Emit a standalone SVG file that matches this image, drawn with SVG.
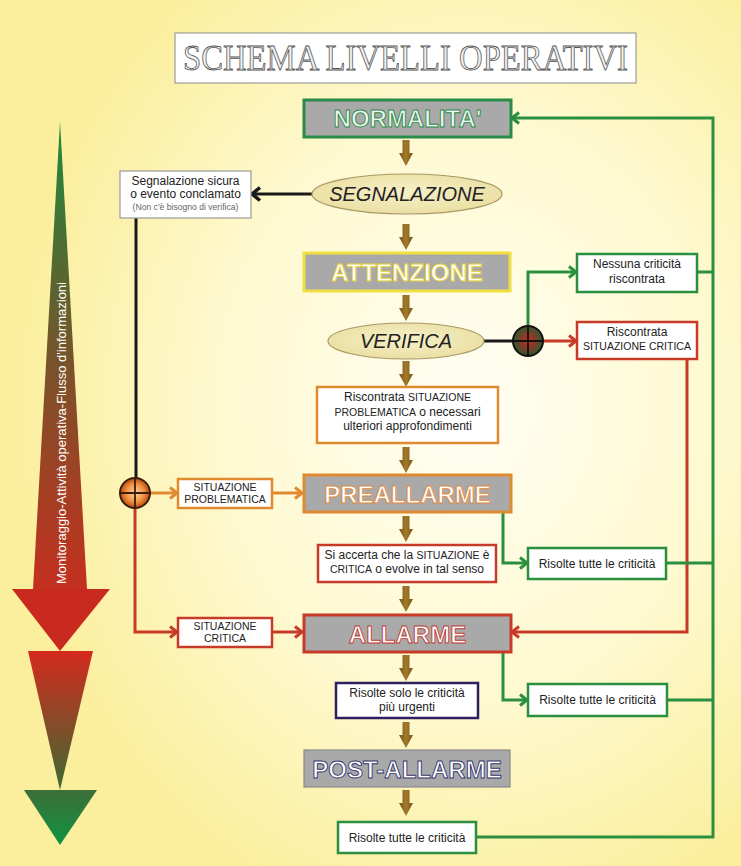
<svg xmlns="http://www.w3.org/2000/svg" xmlns:xlink="http://www.w3.org/1999/xlink" width="741" height="866" viewBox="0 0 741 866">
<defs>
<radialGradient id="bg" cx="0.63" cy="0.47" r="0.62">
<stop offset="0" stop-color="#fffef4"/>
<stop offset="0.55" stop-color="#fef9cf"/>
<stop offset="1" stop-color="#fbee9c"/>
</radialGradient>
<linearGradient id="shaft" x1="0" y1="122" x2="0" y2="589" gradientUnits="userSpaceOnUse">
<stop offset="0" stop-color="#1e8a3e"/>
<stop offset="0.5" stop-color="#76542a"/>
<stop offset="1" stop-color="#c4301f"/>
</linearGradient>
<linearGradient id="tri2" x1="0" y1="651" x2="0" y2="790" gradientUnits="userSpaceOnUse">
<stop offset="0" stop-color="#d42a1e"/>
<stop offset="1" stop-color="#3e6a32"/>
</linearGradient>
<linearGradient id="tri3" x1="0" y1="790" x2="0" y2="845" gradientUnits="userSpaceOnUse">
<stop offset="0" stop-color="#3d6e38"/>
<stop offset="1" stop-color="#0f9444"/>
</linearGradient>
<linearGradient id="brown" x1="0" y1="0" x2="1" y2="0">
<stop offset="0" stop-color="#76561a"/>
<stop offset="0.5" stop-color="#a37a2a"/>
<stop offset="1" stop-color="#76561a"/>
</linearGradient>
<radialGradient id="ellg" cx="0.5" cy="0.45" r="0.6">
<stop offset="0" stop-color="#f6f0c8"/>
<stop offset="1" stop-color="#e9dea0"/>
</radialGradient>
<radialGradient id="jgreen" cx="0.5" cy="0.5" r="0.5">
<stop offset="0" stop-color="#b83222"/>
<stop offset="0.45" stop-color="#8a3a26"/>
<stop offset="1" stop-color="#2e5a30"/>
</radialGradient>
<radialGradient id="jorange" cx="0.5" cy="0.5" r="0.5">
<stop offset="0" stop-color="#fcd8a0"/>
<stop offset="0.6" stop-color="#f09040"/>
<stop offset="1" stop-color="#b84a10"/>
</radialGradient>
<path id="ba" d="M-3.5,0 H3.5 V13 H7 L0,26 L-7,13 H-3.5 Z" fill="url(#brown)"/>
<marker id="mg" markerUnits="userSpaceOnUse" markerWidth="12" markerHeight="14" refX="9" refY="7" orient="auto"><path d="M2,1.5 L9,7 L2,12.5" fill="none" stroke="#2a9040" stroke-width="3"/></marker>
<marker id="mr" markerUnits="userSpaceOnUse" markerWidth="12" markerHeight="14" refX="9" refY="7" orient="auto"><path d="M2,1.5 L9,7 L2,12.5" fill="none" stroke="#c83a28" stroke-width="3"/></marker>
<marker id="mo" markerUnits="userSpaceOnUse" markerWidth="12" markerHeight="14" refX="9" refY="7" orient="auto"><path d="M2,1.5 L9,7 L2,12.5" fill="none" stroke="#e08a30" stroke-width="3"/></marker>
<marker id="mk" markerUnits="userSpaceOnUse" markerWidth="14" markerHeight="16" refX="10" refY="8" orient="auto"><path d="M2,1.5 L10,8 L2,14.5" fill="none" stroke="#1a1a1a" stroke-width="3.5"/></marker>
</defs>
<style>
.sans{font-family:"Liberation Sans",Arial,sans-serif;}
.box{fill:#ffffff;stroke-width:2.5;}
.lvl{fill:#a9a9a9;stroke-width:3;}
.lt{font-family:"Liberation Sans",Arial,sans-serif;font-size:24px;font-weight:bold;text-anchor:middle;stroke-width:0.9;}
.t12{font-family:"Liberation Sans",Arial,sans-serif;font-size:12px;fill:#222;text-anchor:middle;}
.sm{font-size:10.5px;}
.g{stroke:#2a9040;}
.r{stroke:#c83a28;}
.o{stroke:#e08a30;}
.c{fill:none;stroke-width:3;stroke-linejoin:miter;}
.ell{fill:url(#ellg);stroke:#a89868;stroke-width:1.2;}
.et{font-family:"Liberation Sans",Arial,sans-serif;font-size:20px;font-style:italic;fill:#222;text-anchor:middle;}
</style>
<rect x="0" y="0" width="741" height="866" fill="url(#bg)"/>

<g id="side-arrow">
<polygon points="60,122 87,589 33,589" fill="url(#shaft)"/>
<polygon points="12,589 110,589 60,651" fill="#c92a1f"/>
<polygon points="28,651 93,651 60,790" fill="url(#tri2)"/>
<polygon points="24,790 97,790 60,845" fill="url(#tri3)"/>
<text class="sans" x="0" y="0" transform="translate(66,433) rotate(-90)" font-size="12.5" fill="#ffffff" text-anchor="middle" textLength="302" lengthAdjust="spacingAndGlyphs">Monitoraggio-Attività operativa-Flusso d'informazioni</text>
</g>

<g id="title">
<rect x="175" y="33" width="461" height="50" fill="#ffffff" stroke="#8a8a8a" stroke-width="1"/>
<text x="405.5" y="70" font-family="'Liberation Serif','Times New Roman',serif" font-size="35" fill="#f0f0f0" stroke="#555555" stroke-width="0.8" text-anchor="middle" textLength="445" lengthAdjust="spacingAndGlyphs">SCHEMA LIVELLI OPERATIVI</text>
</g>

<g id="connectors">
<use xlink:href="#ba" x="406" y="140"/>
<use xlink:href="#ba" x="406" y="224"/>
<use xlink:href="#ba" x="406" y="295"/>
<use xlink:href="#ba" x="406" y="361"/>
<use xlink:href="#ba" x="406" y="447"/>
<use xlink:href="#ba" x="406" y="516"/>
<use xlink:href="#ba" x="406" y="586"/>
<use xlink:href="#ba" x="406" y="655"/>
<use xlink:href="#ba" x="406" y="722"/>
<use xlink:href="#ba" x="406" y="790"/>
<path class="c" d="M312,194 H252" stroke="#1a1a1a" stroke-width="3.5" marker-end="url(#mk)"/>
<path class="c" d="M136,218 V478" stroke="#1a1a1a"/>
<path class="c" d="M484,341 H513" stroke="#1a1a1a"/>
<path class="c g" d="M528,326 V272 H576" marker-end="url(#mg)"/>
<path class="c r" d="M543,341 H576" marker-end="url(#mr)"/>
<path class="c g" d="M697,272 H713"/>
<path class="c r" d="M687,359 V632 H512" marker-end="url(#mr)"/>
<path class="c g" d="M503,512 V563 H527" marker-end="url(#mg)"/>
<path class="c g" d="M666,563 H713"/>
<path class="c g" d="M503,652 V700 H527" marker-end="url(#mg)"/>
<path class="c g" d="M667,700 H713"/>
<path class="c g" d="M476,837 H713 V118 H512" marker-end="url(#mg)"/>
<path class="c o" d="M150,493 H177" marker-end="url(#mo)"/>
<path class="c o" d="M272,493 H302" marker-end="url(#mo)"/>
<path class="c r" d="M135,508 V632 H177" marker-end="url(#mr)"/>
<path class="c r" d="M272,632 H302" marker-end="url(#mr)"/>
</g>

<g id="normalita">
<rect class="lvl" x="304" y="100" width="207" height="37" stroke="#2a8a48"/>
<text class="lt" x="407.5" y="127" fill="#eef7f0" stroke="#2a8a48">NORMALITA'</text>
</g>

<g id="segnalazione">
<ellipse class="ell" cx="407" cy="194" rx="95" ry="20"/>
<text class="et" x="407" y="201">SEGNALAZIONE</text>
</g>

<g id="segnalazione-sicura">
<rect x="120" y="171" width="131" height="47" fill="#ffffff" stroke="#999" stroke-width="1.2"/>
<text class="t12" x="185.5" y="185" font-size="12.5">Segnalazione sicura</text>
<text class="t12" x="185.5" y="198" font-size="12.5">o evento conclamato</text>
<text class="sans" x="185.5" y="210" font-size="8.6" fill="#666" text-anchor="middle">(Non c'è bisogno di verifica)</text>
</g>

<g id="attenzione">
<rect class="lvl" x="304" y="253" width="206" height="38" stroke="#f0e040"/>
<text class="lt" x="407" y="281" fill="#ffffff" stroke="#e4d030">ATTENZIONE</text>
</g>

<g id="verifica">
<ellipse class="ell" cx="406" cy="341" rx="78" ry="18"/>
<text class="et" x="406" y="348">VERIFICA</text>
</g>

<g id="junction-verifica">
<circle cx="528" cy="341" r="15" fill="url(#jgreen)" stroke="#111" stroke-width="2"/>
<path d="M513,341 H543 M528,326 V356" stroke="#111" stroke-width="1.8"/>
</g>

<g id="nessuna-criticita">
<rect class="box g" x="577" y="254" width="120" height="38"/>
<text class="t12" x="637" y="268">Nessuna criticità</text>
<text class="t12" x="637" y="283">riscontrata</text>
</g>

<g id="riscontrata-critica">
<rect class="box r" x="577" y="322" width="120" height="37"/>
<text class="t12" x="637" y="336">Riscontrata</text>
<text class="t12 sm" x="637" y="350">SITUAZIONE CRITICA</text>
</g>

<g id="riscontrata-problematica">
<rect class="box o" x="317" y="387" width="181" height="56"/>
<text class="t12" x="407.5" y="401">Riscontrata <tspan class="sm">SITUAZIONE</tspan></text>
<text class="t12" x="407.5" y="415.5"><tspan class="sm">PROBLEMATICA</tspan> o necessari</text>
<text class="t12" x="407.5" y="430">ulteriori approfondimenti</text>
</g>

<g id="junction-left">
<circle cx="135" cy="493" r="15" fill="url(#jorange)" stroke="#3a1e0c" stroke-width="2"/>
<path d="M120,493 H150 M135,478 V508" stroke="#3a1e0c" stroke-width="1.8"/>
</g>

<g id="situazione-problematica">
<rect class="box o" x="178" y="479" width="94" height="29"/>
<text class="t12 sm" x="225" y="491">SITUAZIONE</text>
<text class="t12 sm" x="225" y="503">PROBLEMATICA</text>
</g>

<g id="preallarme">
<rect class="lvl" x="304" y="475" width="207" height="37" stroke="#e08a30"/>
<text class="lt" x="407.5" y="502.5" fill="#ffffff" stroke="#e08a40">PREALLARME</text>
</g>

<g id="si-accerta">
<rect class="box r" x="318" y="545" width="178" height="37"/>
<text class="t12" x="407" y="559">Si accerta che la <tspan class="sm">SITUAZIONE</tspan> è</text>
<text class="t12" x="407" y="573"><tspan class="sm">CRITICA</tspan> o evolve in tal senso</text>
</g>

<g id="risolte-preallarme">
<rect class="box g" x="528" y="548" width="138" height="31"/>
<text class="t12" x="597" y="567.5">Risolte tutte le criticità</text>
</g>

<g id="situazione-critica">
<rect class="box r" x="178" y="618" width="94" height="29"/>
<text class="t12 sm" x="225" y="630">SITUAZIONE</text>
<text class="t12 sm" x="225" y="642">CRITICA</text>
</g>

<g id="allarme">
<rect class="lvl" x="304" y="615" width="207" height="37" stroke="#c83a28"/>
<text class="lt" x="407.5" y="642.5" fill="#ffffff" stroke="#c03a30">ALLARME</text>
</g>

<g id="risolte-urgenti">
<rect class="box" x="336" y="683" width="142" height="35" stroke="#2e2060"/>
<text class="t12" x="407" y="697">Risolte solo le criticità</text>
<text class="t12" x="407" y="711">più urgenti</text>
</g>

<g id="risolte-allarme">
<rect class="box g" x="528" y="684" width="139" height="32"/>
<text class="t12" x="597.5" y="704">Risolte tutte le criticità</text>
</g>

<g id="post-allarme">
<rect x="304" y="750" width="206" height="37" fill="#a9a9a9" stroke="#8a8a8a" stroke-width="1.2"/>
<text class="lt" x="407" y="777.5" fill="#ffffff" stroke="#34346e">POST-ALLARME</text>
</g>

<g id="risolte-finale">
<rect class="box g" x="338" y="822" width="138" height="31"/>
<text class="t12" x="407" y="841.5">Risolte tutte le criticità</text>
</g>
</svg>
